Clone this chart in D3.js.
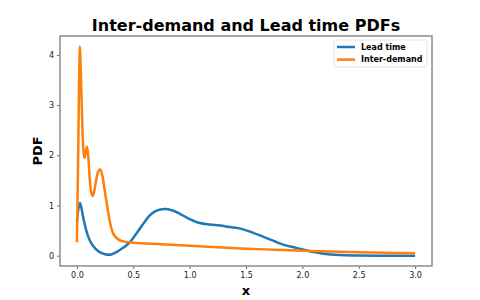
<!DOCTYPE html>
<meta charset="utf-8" />
<style>
    body { margin: 0; background: #fff; }
    text { font-family: "DejaVu Sans", sans-serif; }
</style>
<svg width="480" height="300"></svg>
<script src="https://d3js.org/d3.v7.min.js"></script>
<script>
    // values
    const leadX = [0, 0.01, 0.02, 0.027, 0.04, 0.06, 0.08, 0.1, 0.13, 0.16, 0.19, 0.22, 0.25, 0.28, 0.31, 0.35,
        0.39, 0.43, 0.47, 0.53, 0.59, 0.64, 0.69, 0.74, 0.79, 0.85, 0.91, 1.0, 1.09, 1.18, 1.27, 1.36, 1.43,
        1.535, 1.65, 1.74, 1.83, 1.94, 2.04, 2.19, 2.33, 2.5, 2.75, 3.0];
    const leadY = [0.68, 0.88, 1.01, 1.05, 0.95, 0.72, 0.53, 0.38, 0.24, 0.15, 0.09, 0.05, 0.03, 0.02, 0.03, 0.07,
        0.13, 0.19, 0.27, 0.45, 0.64, 0.79, 0.88, 0.92, 0.93, 0.9, 0.84, 0.73, 0.65, 0.62, 0.6, 0.57, 0.55,
        0.48, 0.38, 0.3, 0.22, 0.16, 0.105, 0.04, 0.012, 0.004, 0.001, 0.0];

    const interX = [0, 0.006, 0.013, 0.02, 0.027, 0.034, 0.043, 0.053, 0.062, 0.068, 0.078, 0.089, 0.1, 0.115,
        0.128, 0.14, 0.155, 0.17, 0.19, 0.207, 0.225, 0.25, 0.275, 0.295, 0.32, 0.34, 0.37, 0.4, 0.5, 0.75, 1.0,
        1.25, 1.5, 1.75, 2.0, 2.25, 2.5, 2.75, 3.0];
    const interY = [0.27, 1.2, 2.3, 3.6, 4.17, 3.7, 3.0, 2.3, 2.0, 1.95, 2.05, 2.17, 2.0, 1.5,
        1.25, 1.19, 1.3, 1.5, 1.68, 1.72, 1.6, 1.25, 0.9, 0.65, 0.45, 0.38, 0.32, 0.29, 0.26, 0.23, 0.2,
        0.17, 0.14, 0.12, 0.1, 0.085, 0.07, 0.058, 0.05];

    const xTicks = [0, 0.5, 1, 1.5, 2, 2.5, 3];
    const yTicks = [0, 1, 2, 3, 4];

    const series = [
        { name: 'Lead time', xs: leadX, ys: leadY, color: '#1f77b4' },
        { name: 'Inter-demand', xs: interX, ys: interY, color: '#ff7f0e' },
    ];

    const svg = d3.select('svg');
    const margin = { top: 36, right: 48, bottom: 34, left: 60 };
    const width = 480 - margin.left - margin.right;
    const height = 300 - margin.top - margin.bottom;

    const x = d3.scaleLinear().domain([-0.15, 3.15]).range([0, width]);
    const y = d3.scaleLinear().domain([-0.205, 4.377]).range([height, 0]);

    const g = svg.append('g').attr('transform', `translate(${margin.left},${margin.top})`);

    const line = d3.line()
        .x(d => x(d[0]))
        .y(d => y(d[1]))
        .curve(d3.curveCatmullRom.alpha(0.5));

    series.forEach(s => {
        g.append('path')
            .datum(s.xs.map((v, i) => [v, s.ys[i]]))
            .attr('fill', 'none')
            .attr('stroke', s.color)
            .attr('stroke-width', 2.5)
            .attr('stroke-linejoin', 'round')
            .attr('d', line);
    });

    const xAxis = g.append('g')
        .attr('transform', `translate(0,${height})`)
        .call(d3.axisBottom(x).tickValues(xTicks).tickFormat(d3.format('.1f')).tickSize(3).tickPadding(3));
    const yAxis = g.append('g')
        .call(d3.axisLeft(y).tickValues(yTicks).tickFormat(d3.format('d')).tickSize(3).tickPadding(3));

    [xAxis, yAxis].forEach(a => {
        a.select('.domain').remove();
        a.selectAll('line').attr('stroke', '#444').attr('stroke-width', 0.8);
        a.selectAll('text').attr('fill', '#222').style('font-size', '8px')
            .style('font-family', '"DejaVu Sans", sans-serif');
    });

    // frame
    g.append('rect')
        .attr('width', width)
        .attr('height', height)
        .attr('fill', 'none')
        .attr('stroke', '#8c8c8c')
        .attr('stroke-width', 1.5);

    svg.append('text')
        .attr('x', margin.left + width / 2)
        .attr('y', 31)
        .attr('text-anchor', 'middle')
        .style('font-size', '16px')
        .style('font-weight', 'bold')
        .text('Inter-demand and Lead time PDFs');

    svg.append('text')
        .attr('x', margin.left + width / 2)
        .attr('y', 295)
        .attr('text-anchor', 'middle')
        .style('font-size', '13px')
        .style('font-weight', 'bold')
        .text('x');

    svg.append('text')
        .attr('transform', `translate(42,${margin.top + height / 2}) rotate(-90)`)
        .attr('text-anchor', 'middle')
        .style('font-size', '13px')
        .style('font-weight', 'bold')
        .text('PDF');

    // legend
    const lg = g.append('g').attr('transform', `translate(${width - 98},4)`);
    lg.append('rect')
        .attr('width', 93)
        .attr('height', 27)
        .attr('rx', 2)
        .attr('fill', '#fff')
        .attr('fill-opacity', 0.8)
        .attr('stroke', '#ddd')
        .attr('stroke-width', 0.8);
    series.forEach((s, i) => {
        const row = lg.append('g').attr('transform', `translate(0,${7 + i * 12.6})`);
        row.append('line')
            .attr('x1', 3).attr('x2', 21)
            .attr('stroke', s.color)
            .attr('stroke-width', 2.5);
        row.append('text')
            .attr('x', 27)
            .attr('dy', '0.35em')
            .style('font-size', '8px')
            .style('font-weight', 'bold')
            .text(s.name);
    });
</script>
